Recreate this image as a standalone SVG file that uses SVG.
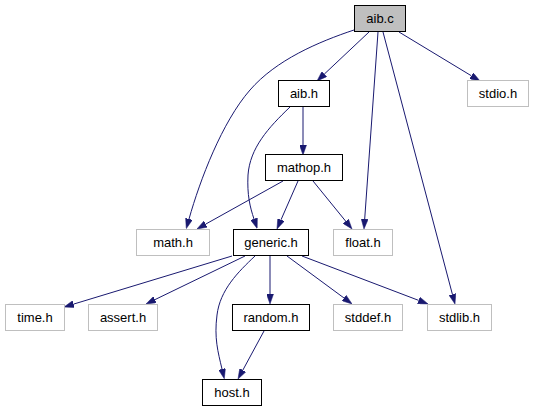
<svg xmlns="http://www.w3.org/2000/svg" width="535" height="411" viewBox="0 0 535 411">
<style>
.n rect{fill:#ffffff;stroke:#000000;stroke-width:1}
.g rect{fill:#ffffff;stroke:#bfbfbf;stroke-width:1}
.cur rect{fill:#bfbfbf;stroke:#000000;stroke-width:1}
text{font-family:"Liberation Sans",Arial,sans-serif;font-size:13px;text-anchor:middle;fill:#000000}
#edges path{fill:none;stroke:#191970;stroke-width:1;marker-end:url(#arr)}
</style>
<defs>
<marker id="arr" viewBox="0 0 10 7" refX="0" refY="3.5" markerWidth="10" markerHeight="7" markerUnits="userSpaceOnUse" orient="auto">
<path d="M0,0 L10,3.5 L0,7 z" fill="#191970" stroke="#191970" stroke-width="0.5"/>
</marker>
</defs>
<rect width="535" height="411" fill="#ffffff"/>
<g id="edges">
<path d="M369,32 L324.3,74.1"/>
<path d="M399,32 L471.4,75.8"/>
<path d="M378,32 L364.7,219"/>
<path d="M383,32 L452.4,294.3"/>
<path d="M354,30 C318,42 276,60 250,90 C222,122 200,180 189,219"/>
<path d="M303,106.5 L303,145"/>
<path d="M290,107 C268,128 250,148 248,175 C247,195 250,207 254,219"/>
<path d="M283,181 L205.7,224.1"/>
<path d="M298,181 L281,219.8"/>
<path d="M313,181 L345.7,221.2"/>
<path d="M232,256 L73.6,304.1"/>
<path d="M245,256 L155,299.6"/>
<path d="M255,256 C238,272 220,290 217,315 C214,338 218,352 222,369"/>
<path d="M270,256 L270,294"/>
<path d="M287,256 L344,298"/>
<path d="M302,256 L418.7,300.4"/>
<path d="M264,331 L242.8,370.2"/>
</g>
<g id="node-aib-c" class="cur"><rect x="354.5" y="5.5" width="51" height="26"/><text x="380" y="22.5">aib.c</text></g>
<g id="node-aib-h" class="n"><rect x="278.5" y="80.5" width="51" height="26"/><text x="304" y="97.5">aib.h</text></g>
<g id="node-stdio-h" class="g"><rect x="467.5" y="80.5" width="61" height="26"/><text x="498" y="97.5">stdio.h</text></g>
<g id="node-mathop-h" class="n"><rect x="265.5" y="154.5" width="77" height="26"/><text x="304" y="171.5">mathop.h</text></g>
<g id="node-math-h" class="g"><rect x="136.5" y="229.5" width="73" height="26"/><text x="173" y="246.5">math.h</text></g>
<g id="node-generic-h" class="n"><rect x="233.5" y="229.5" width="75" height="26"/><text x="271" y="246.5">generic.h</text></g>
<g id="node-float-h" class="g"><rect x="333.5" y="229.5" width="59" height="26"/><text x="363" y="246.5">float.h</text></g>
<g id="node-time-h" class="g"><rect x="5.5" y="304.5" width="59" height="26"/><text x="35" y="321.5">time.h</text></g>
<g id="node-assert-h" class="g"><rect x="88.5" y="304.5" width="69" height="26"/><text x="123" y="321.5">assert.h</text></g>
<g id="node-random-h" class="n"><rect x="232.5" y="304.5" width="77" height="26"/><text x="271" y="321.5">random.h</text></g>
<g id="node-stddef-h" class="g"><rect x="333.5" y="304.5" width="69" height="26"/><text x="368" y="321.5">stddef.h</text></g>
<g id="node-stdlib-h" class="g"><rect x="427.5" y="304.5" width="64" height="26"/><text x="459.5" y="321.5">stdlib.h</text></g>
<g id="node-host-h" class="n"><rect x="202.5" y="379.5" width="59" height="26"/><text x="232" y="396.5">host.h</text></g>
</svg>
